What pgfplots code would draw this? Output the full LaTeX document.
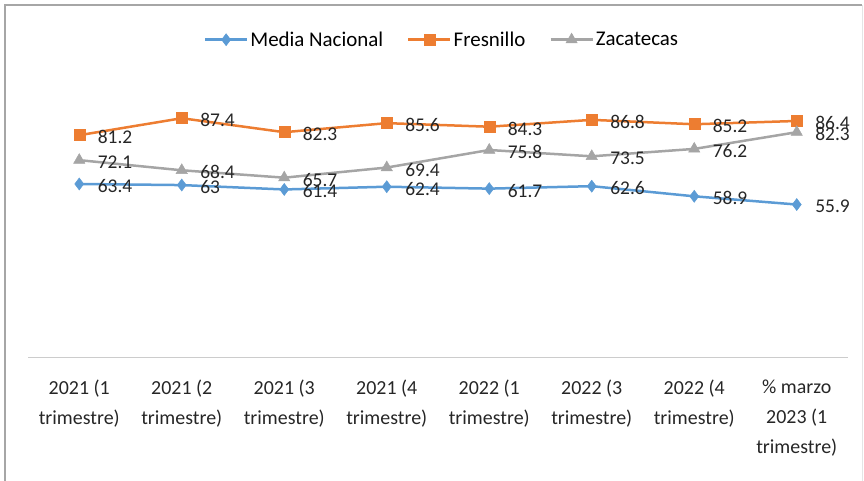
\documentclass[border=0pt]{standalone}
\usepackage{pgfplots}
\pgfplotsset{compat=1.18}
\usepackage{fontspec}
\setmainfont{Carlito}
\definecolor{cblue}{HTML}{5B9BD5}
\definecolor{corange}{HTML}{ED7D31}
\definecolor{cgray}{HTML}{A5A5A5}
\definecolor{ctext}{HTML}{262626}
\begin{document}
\begin{tikzpicture}
\useasboundingbox (0bp,0bp) rectangle (864bp,481bp);
\draw[gray!70, line width=1.5bp] (5bp,0bp) -- (5bp,476bp) -- (862bp,476bp);
\draw[gray!20, line width=1bp] (862bp,476bp) -- (862bp,0bp);
\begin{axis}[
  at={(28bp,123.3bp)}, anchor=south west,
  scale only axis, width=820bp, height=274bp,
  xmin=-0.5, xmax=7.5, ymin=0, ymax=100,
  clip=false,
  axis y line=none,
  axis x line*=bottom,
  x axis line style={draw=black!20, line width=1.5bp},
  xtick={0,1,2,3,4,5,6,7},
  major tick length=0pt,
  xticklabels={{2021 (1\\trimestre)},{2021 (2\\trimestre)},{2021 (3\\trimestre)},{2021 (4\\trimestre)},{2022 (1\\trimestre)},{2022 (3\\trimestre)},{2022 (4\\trimestre)},{\% marzo\\2023 (1\\trimestre)}},
  xticklabel style={font=\fontsize{20}{30}\selectfont, align=center, yshift=-19bp, text=ctext},
  /pgf/number format/assume math mode=true,
  nodes near coords,
  nodes near coords align={horizontal},
  every node near coord/.append style={font=\fontsize{19.5}{22}\selectfont, anchor=west, xshift=15bp, yshift=-2bp, text=ctext},
  legend style={at={(axis description cs:0.5,1)}, anchor=center, yshift=44bp, xshift=4bp, draw=none, fill=none,
    font=\fontsize{21}{26}\selectfont, legend columns=3,
    /tikz/every even column/.append style={column sep=22bp}},
  legend image code/.code={\draw[mark repeat=2,mark phase=2] plot coordinates {(0bp,0bp) (21bp,0bp) (42bp,0bp)};},
]
\addplot[color=cblue, line width=2.5bp, mark=diamond*, mark size=6bp, mark options={fill=cblue, line width=0.5bp}]
  coordinates {(0,63.4) (1,63) (2,61.4) (3,62.4) (4,61.7) (5,62.6) (6,58.9) (7,55.9)};
\addlegendentry{Media Nacional}
\addplot[color=corange, line width=2.5bp, mark=square*, mark size=5.5bp, mark options={fill=corange, line width=0.5bp}]
  coordinates {(0,81.2) (1,87.4) (2,82.3) (3,85.6) (4,84.3) (5,86.8) (6,85.2) (7,86.4)};
\addlegendentry{Fresnillo}
\addplot[color=cgray, line width=2.5bp, mark=triangle*, mark size=6.5bp, mark options={fill=cgray, line width=0.5bp}]
  coordinates {(0,72.1) (1,68.4) (2,65.7) (3,69.4) (4,75.8) (5,73.5) (6,76.2) (7,82.3)};
\addlegendentry{Zacatecas}
\end{axis}
\end{tikzpicture}
\end{document}
